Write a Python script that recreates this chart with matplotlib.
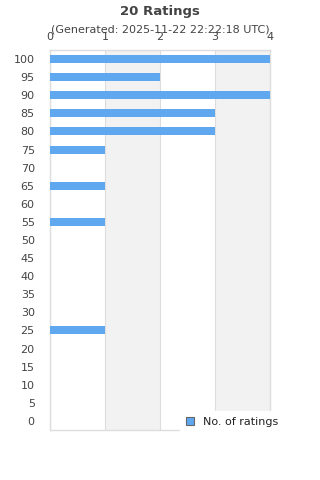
import matplotlib
matplotlib.use("Agg")
import matplotlib.pyplot as plt

categories = [100, 95, 90, 85, 80, 75, 70, 65, 60, 55, 50, 45, 40, 35, 30, 25, 20, 15, 10, 5, 0]
counts = [4, 2, 4, 3, 3, 1, 0, 1, 0, 1, 0, 0, 0, 0, 0, 1, 0, 0, 0, 0, 0]
x_ticks = [0, 1, 2, 3, 4]

txt = "#444444"
fig = plt.figure(figsize=(3.2, 4.8), dpi=100)
ax = fig.add_axes([50/320, 1-430/480, 220/320, 380/480])

ypos = list(range(len(categories)))
ax.barh(ypos, counts, height=0.44, color="#5fa8f0", zorder=3, label="No. of ratings")
ax.set_ylim(len(categories)-0.5, -0.5)
ax.set_xlim(0, 4)
ax.set_yticks(ypos)
ax.set_yticklabels([str(c) for c in categories])
ax.set_xticks(x_ticks)
ax.xaxis.tick_top()
ax.tick_params(axis="both", length=0, labelsize=8, colors=txt)
ax.tick_params(axis="y", pad=11)
ax.tick_params(axis="x", pad=6)

for a in (1, 3):
    ax.axvspan(a, a+1, color="#f2f2f2", zorder=0, lw=0)
for v in x_ticks:
    ax.axvline(v, color="#dddddd", lw=0.8, zorder=1)
for s in ax.spines.values():
    s.set_color("#dddddd")
    s.set_linewidth(1)

fig.text(0.5, 1-11/480, "20 Ratings", ha="center", va="center", fontsize=9.5, fontweight="bold", color=txt)
fig.text(0.5, 1-30/480, "(Generated: 2025-11-22 22:22:18 UTC)", ha="center", va="center", fontsize=8, color=txt)

leg = fig.legend(loc="center", bbox_to_anchor=(232/320, 1-422/480), frameon=True, fontsize=8,
                 handlelength=0.7, handleheight=0.7, handletextpad=0.8, borderpad=0.5)
leg.get_frame().set_facecolor("white")
leg.get_frame().set_edgecolor("white")
leg.get_frame().set_alpha(1)
for t in leg.get_texts():
    t.set_color("#222222")
for h in leg.legend_handles:
    h.set_edgecolor("#666666")
    h.set_linewidth(0.8)

fig.savefig("out.png", dpi=100)
